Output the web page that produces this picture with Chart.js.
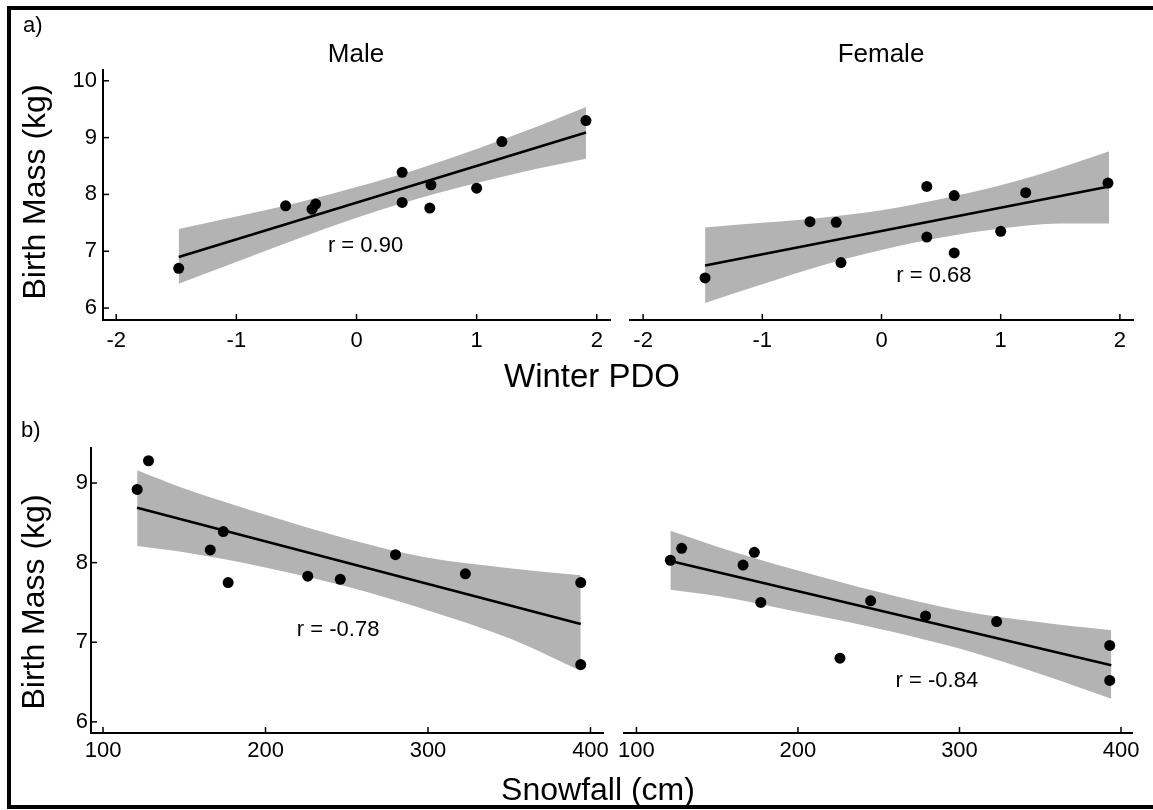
<!DOCTYPE html>
<html>
<head>
<meta charset="utf-8">
<script src="https://cdn.jsdelivr.net/npm/chart.js@4.4.1/dist/chart.umd.min.js"></script>
<style>
  body { margin: 0; background: #fff; }
  #page { position: relative; width: 1153px; height: 810px; overflow: hidden;
          font-family: "Liberation Sans", Arial, sans-serif; color: #000; }
  #page canvas { position: absolute; left: 0; top: 0; }
  .frame { position: absolute; left: 7px; top: 6px; width: 1160px; height: 803px;
           box-sizing: border-box; border: 4px solid #000; border-right: none; }
  .lbl { position: absolute; line-height: 1; white-space: nowrap; }
  .ctr { transform: translateX(-50%); }
  .rot { transform: translate(-50%, -50%) rotate(-90deg); }
</style>
</head>
<body>
<div id="page">
  <div class="frame"></div>
  <canvas id="tl" width="1153" height="810"></canvas>
  <canvas id="tr" width="1153" height="810"></canvas>
  <canvas id="bl" width="1153" height="810"></canvas>
  <canvas id="br" width="1153" height="810"></canvas>

  <div class="lbl" style="left:23px; top:14px; font-size:22px;">a)</div>
  <div class="lbl" style="left:21px; top:419px; font-size:22px;">b)</div>
  <div class="lbl ctr" style="left:356px; top:40px; font-size:26px;">Male</div>
  <div class="lbl ctr" style="left:881px; top:40px; font-size:26px;">Female</div>
  <div class="lbl rot" style="left:34px; top:192px; font-size:32px;">Birth Mass (kg)</div>
  <div class="lbl rot" style="left:33px; top:602px; font-size:32px;">Birth Mass (kg)</div>
  <div class="lbl ctr" style="left:592px; top:359px; font-size:33px;">Winter PDO</div>
  <div class="lbl ctr" style="left:598px; top:773px; font-size:32px;">Snowfall (cm)</div>
</div>

<script>
// Tick values
const pdoTicks = [-2, -1, 0, 1, 2];
const snowTicks = [100, 200, 300, 400];
const massTicksTop = [6, 7, 8, 9, 10];
const massTicksBottom = [6, 7, 8, 9];

// a) birth mass vs winter PDO
const pdoMale = [-1.48, -0.59, -0.37, -0.34, 0.38, 0.38, 0.62, 0.61, 1.00, 1.21, 1.91];
const massMalePdo = [6.70, 7.80, 7.74, 7.83, 8.39, 7.86, 8.17, 7.76, 8.11, 8.93, 9.30];
const pdoFemale = [-1.48, -0.60, -0.38, -0.34, 0.38, 0.38, 0.61, 0.61, 1.00, 1.21, 1.90];
const massFemalePdo = [6.53, 7.52, 7.51, 6.80, 8.14, 7.25, 7.98, 6.97, 7.35, 8.03, 8.20];

const pdoFitX = [-1.48, 1.91];
const malePdoFit = [6.90, 9.09];
const femalePdoFit = [6.75, 8.14];

const pdoBandX = [-1.48, -1.0, -0.5, 0, 0.5, 1.0, 1.5, 1.91];
const malePdoUpper = [7.39, 7.61, 7.85, 8.13, 8.44, 8.80, 9.19, 9.54];
const malePdoLower = [6.43, 6.81, 7.21, 7.59, 7.92, 8.20, 8.45, 8.63];
const femalePdoUpper = [7.42, 7.50, 7.59, 7.72, 7.92, 8.16, 8.47, 8.76];
const femalePdoLower = [6.09, 6.42, 6.75, 7.02, 7.24, 7.40, 7.49, 7.49];

// b) birth mass vs snowfall
const snowMale = [121, 128, 166, 174, 177, 226, 246, 280, 323, 394, 394];
const massMaleSnow = [8.92, 9.28, 8.16, 8.39, 7.75, 7.83, 7.79, 8.10, 7.86, 7.75, 6.72];
const snowFemale = [121, 128, 166, 173, 177, 226, 245, 279, 323, 393, 393];
const massFemaleSnow = [8.03, 8.18, 7.97, 8.13, 7.50, 6.80, 7.52, 7.33, 7.26, 6.96, 6.52];

const snowFitX = [121, 394];
const maleSnowFit = [8.69, 7.23];
const femaleSnowFit = [8.02, 6.71];

const snowBandX = [121, 150, 200, 250, 300, 350, 394];
const maleSnowUpper = [9.16, 8.93, 8.60, 8.30, 8.06, 7.93, 7.84];
const maleSnowLower = [8.21, 8.13, 7.94, 7.70, 7.40, 7.05, 6.64];
const femaleSnowUpper = [8.40, 8.20, 7.90, 7.63, 7.40, 7.25, 7.15];
const femaleSnowLower = [7.66, 7.58, 7.38, 7.17, 6.92, 6.60, 6.29];

const fontFamily = '"Liberation Sans", Arial, sans-serif';
const bandColor = '#b3b3b3';

const pts = (xs, ys) => xs.map((x, i) => ({ x: x, y: ys[i] }));

// short tick marks pointing into the plot
const innerTicks = {
    id: 'innerTicks',
    beforeDatasetsDraw(chart, args, opts) {
        const { ctx, chartArea } = chart;
        ctx.save();
        ctx.strokeStyle = '#000';
        ctx.lineWidth = 1.5;
        Object.values(chart.scales).forEach(s => {
            if (!s.options.display) return;
            s.ticks.forEach(t => {
                const p = s.getPixelForValue(t.value);
                ctx.beginPath();
                if (s.isHorizontal()) {
                    ctx.moveTo(p, chartArea.bottom);
                    ctx.lineTo(p, chartArea.bottom - opts.len);
                } else {
                    ctx.moveTo(chartArea.left, p);
                    ctx.lineTo(chartArea.left + opts.len, p);
                }
                ctx.stroke();
            });
        });
        ctx.restore();
    }
};

// correlation text placed in data coordinates
const rLabel = {
    id: 'rLabel',
    afterDatasetsDraw(chart, args, opts) {
        const { ctx, scales } = chart;
        ctx.save();
        ctx.font = '22px ' + fontFamily;
        ctx.fillStyle = '#000';
        ctx.textAlign = 'center';
        ctx.textBaseline = 'middle';
        ctx.fillText(opts.text, scales.x.getPixelForValue(opts.x), scales.y.getPixelForValue(opts.y));
        ctx.restore();
    }
};

function panel(id, p) {
    const ctx = document.getElementById(id).getContext('2d');
    return new Chart(ctx, {
        type: 'scatter',
        data: {
            datasets: [
                {
                    data: pts(p.x, p.y),
                    backgroundColor: '#000',
                    borderWidth: 0,
                    pointRadius: 5.5,
                    order: 0
                },
                {
                    type: 'line',
                    data: pts(p.fitX, p.fitY),
                    borderColor: '#000',
                    borderWidth: 2.5,
                    pointRadius: 0,
                    fill: false,
                    order: 1
                },
                {
                    type: 'line',
                    data: pts(p.bandX, p.upper),
                    borderColor: 'rgba(0,0,0,0)',
                    borderWidth: 0,
                    pointRadius: 0,
                    cubicInterpolationMode: 'monotone',
                    backgroundColor: bandColor,
                    fill: '+1',
                    order: 2
                },
                {
                    type: 'line',
                    data: pts(p.bandX, p.lower),
                    borderColor: 'rgba(0,0,0,0)',
                    borderWidth: 0,
                    pointRadius: 0,
                    cubicInterpolationMode: 'monotone',
                    fill: false,
                    order: 3
                }
            ]
        },
        options: {
            responsive: false,
            animation: false,
            events: [],
            layout: { padding: p.pad },
            scales: {
                x: {
                    type: 'linear',
                    min: p.xMin,
                    max: p.xMax,
                    grid: { display: false, drawTicks: false, tickLength: 0 },
                    border: { display: true, color: '#000', width: 2 },
                    ticks: {
                        color: '#000',
                        font: { family: fontFamily, size: 22 },
                        padding: p.xPad,
                        maxRotation: 0
                    },
                    afterBuildTicks: s => { s.ticks = p.xTicks.map(v => ({ value: v })); },
                    afterFit: s => { s.height = 40; s.paddingLeft = 0; s.paddingRight = 0; }
                },
                y: {
                    type: 'linear',
                    display: p.yAxis,
                    min: p.yMin,
                    max: p.yMax,
                    grid: { display: false, drawTicks: false, tickLength: 0 },
                    border: { display: true, color: '#000', width: 2 },
                    ticks: {
                        color: '#000',
                        font: { family: fontFamily, size: 22 },
                        padding: p.yPad
                    },
                    afterBuildTicks: s => { s.ticks = p.yTicks.map(v => ({ value: v })); },
                    afterFit: s => { s.width = p.yAxis ? 40 : 0; s.paddingTop = 0; s.paddingBottom = 0; }
                }
            },
            plugins: {
                legend: { display: false },
                tooltip: { enabled: false },
                innerTicks: { len: 6 },
                rLabel: p.r
            }
        },
        plugins: [innerTicks, rLabel]
    });
}

panel('tl', {
    x: pdoMale, y: massMalePdo, fitX: pdoFitX, fitY: malePdoFit,
    bandX: pdoBandX, upper: malePdoUpper, lower: malePdoLower,
    xMin: -2.11, xMax: 2.11, yMin: 5.79, yMax: 10.19,
    xTicks: pdoTicks, yTicks: massTicksTop, yAxis: true, xPad: 8, yPad: 6,
    pad: { left: 63, top: 70, right: 543, bottom: 450 },
    r: { text: 'r = 0.90', x: 0.075, y: 7.10 }
});

panel('tr', {
    x: pdoFemale, y: massFemalePdo, fitX: pdoFitX, fitY: femalePdoFit,
    bandX: pdoBandX, upper: femalePdoUpper, lower: femalePdoLower,
    xMin: -2.11, xMax: 2.11, yMin: 5.79, yMax: 10.19,
    xTicks: pdoTicks, yTicks: massTicksTop, yAxis: false, xPad: 8, yPad: 6,
    pad: { left: 630, top: 70, right: 20, bottom: 450 },
    r: { text: 'r = 0.68', x: 0.44, y: 6.57 }
});

panel('bl', {
    x: snowMale, y: massMaleSnow, fitX: snowFitX, fitY: maleSnowFit,
    bandX: snowBandX, upper: maleSnowUpper, lower: maleSnowLower,
    xMin: 92.6, xMax: 407.7, yMin: 5.86, yMax: 9.44,
    xTicks: snowTicks, yTicks: massTicksBottom, yAxis: true, xPad: 5, yPad: 3,
    pad: { left: 51, top: 448, right: 550, bottom: 37 },
    r: { text: 'r = -0.78', x: 244.7, y: 7.16 }
});

panel('br', {
    x: snowFemale, y: massFemaleSnow, fitX: snowFitX, fitY: femaleSnowFit,
    bandX: snowBandX, upper: femaleSnowUpper, lower: femaleSnowLower,
    xMin: 92.3, xMax: 406.8, yMin: 5.86, yMax: 9.44,
    xTicks: snowTicks, yTicks: massTicksBottom, yAxis: false, xPad: 5, yPad: 3,
    pad: { left: 624, top: 448, right: 21, bottom: 37 },
    r: { text: 'r = -0.84', x: 286, y: 6.51 }
});
</script>
</body>
</html>
